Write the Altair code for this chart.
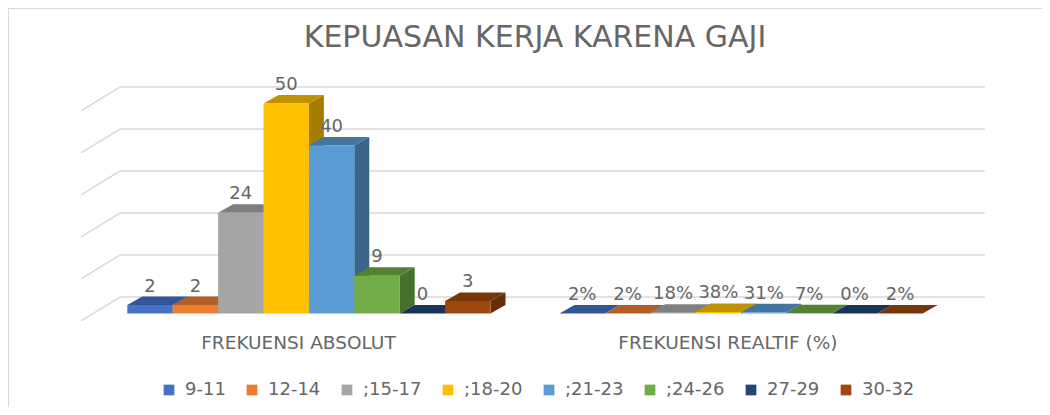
import altair as alt
import pandas as pd

series = ["9-11", "12-14", ";15-17", ";18-20", ";21-23", ";24-26", "27-29", "30-32"]
absolut = [2, 2, 24, 50, 40, 9, 0, 3]
relatif = [0.02, 0.02, 0.18, 0.38, 0.31, 0.07, 0, 0.02]
relatif_labels = ["2%", "2%", "18%", "38%", "31%", "7%", "0%", "2%"]
groups = ["FREKUENSI ABSOLUT", "FREKUENSI REALTIF (%)"]
ticks = [0, 10, 20, 30, 40, 50]

front_colors = ["#4472C4", "#ED7D31", "#A5A5A5", "#FFC000", "#5B9BD5", "#70AD47", "#264478", "#9E480E"]
top_colors = ["#33569A", "#B45E25", "#7F7F7F", "#C09200", "#44759F", "#548235", "#1C3358", "#77360A"]
side_colors = ["#2A4A85", "#9C5120", "#6E6E6E", "#A37C00", "#3A6488", "#476F2D", "#172B4B", "#652E08"]

FONT = "DejaVu Sans"
TEXT = "#666666"
GRID = "#D9D9D9"

GROUP_START = [0, 9.52]
GROUP_CENTER = [3.77, 13.23]
DX, DY = 0.33, 2.02          # depth of each bar, in axis units
WALL_DY, FLOOR_DX, FLOOR_DY = 3.93, 0.86, 5.71
X_LEFT, X_RIGHT = -0.16, 18.89

x_scale = alt.Scale(domain=[-2.628, 20.148], nice=False, zero=False)
y_scale = alt.Scale(domain=[-22.26, 72.74], nice=False, zero=False)
X = lambda f: alt.X(f, type="quantitative", scale=x_scale, axis=None)
Y = lambda f: alt.Y(f, type="quantitative", scale=y_scale, axis=None, stack=None)

rows, sides, tops, labels = [], [], [], []
for g, (start, vals) in enumerate(zip(GROUP_START, [absolut, relatif])):
    for i, (s, v) in enumerate(zip(series, vals)):
        x0 = start + i
        text = str(v) if g == 0 else relatif_labels[i]
        rows.append(dict(series=s, x0=x0, x1=x0 + 1, v=v))
        key = f"{g}-{i}"
        sides += [dict(key=key, series=s, x=x0 + 1, y0=0, y1=v),
                  dict(key=key, series=s, x=x0 + 1 + DX, y0=DY, y1=v + DY)]
        tops += [dict(key=key, series=s, y=v, x0=x0, x1=x0 + 1),
                 dict(key=key, series=s, y=v + DY, x0=x0 + DX, x1=x0 + 1 + DX)]
        labels.append(dict(x=x0 + 0.5, y=v + DY, text=text))

grid_rows = []
for t in ticks:
    grid_rows += [dict(t=t, o=0, x=X_LEFT - FLOOR_DX, y=t + WALL_DY - FLOOR_DY),
                  dict(t=t, o=1, x=X_LEFT, y=t + WALL_DY),
                  dict(t=t, o=2, x=X_RIGHT, y=t + WALL_DY)]

grid = alt.Chart(pd.DataFrame(grid_rows)).mark_line(color=GRID, strokeWidth=1.5).encode(
    x=X("x"), y=Y("y"), detail="t:N", order="o:Q")

side = alt.Chart(pd.DataFrame(sides)).mark_area().encode(
    x=X("x"), y=Y("y0"), y2="y1", detail="key:N",
    color=alt.Color("series:N", scale=alt.Scale(domain=series, range=side_colors), legend=None))

top = alt.Chart(pd.DataFrame(tops)).mark_area(orient="horizontal").encode(
    y=Y("y"), x=X("x0"), x2="x1", detail="key:N",
    color=alt.Color("series:N", scale=alt.Scale(domain=series, range=top_colors), legend=None))

front = alt.Chart(pd.DataFrame(rows)).mark_bar().encode(
    x=X("x0"), x2="x1", y=Y("v"), y2=alt.Y2(datum=0),
    color=alt.Color("series:N", scale=alt.Scale(domain=series, range=front_colors),
                    legend=alt.Legend(title=None, orient="none", legendX=152, legendY=373,
                                      direction="horizontal", columns=8, symbolType="square",
                                      symbolSize=115, symbolStrokeWidth=0, labelFont=FONT,
                                      labelFontSize=18, labelColor=TEXT, columnPadding=17,
                                      labelOffset=7)))

value_text = alt.Chart(pd.DataFrame(labels)).mark_text(
    font=FONT, fontSize=18, color=TEXT, baseline="alphabetic", dy=-5
).encode(x=X("x"), y=Y("y"), text="text:N")

cat_df = pd.DataFrame({"text": groups, "x": GROUP_CENTER})
cat_text = alt.Chart(cat_df).mark_text(font=FONT, fontSize=18.5, color=TEXT).encode(
    x=X("x"), y=alt.value(335), text="text:N")

frame_top = alt.Chart(pd.DataFrame({"a": [0]})).mark_rule(color=GRID, strokeWidth=2).encode(
    x=alt.value(0), x2=alt.value(1034), y=alt.value(0))
frame_left = alt.Chart(pd.DataFrame({"a": [0]})).mark_rule(color=GRID, strokeWidth=2).encode(
    x=alt.value(0), y=alt.value(0), y2=alt.value(399))

chart = alt.layer(frame_top, frame_left, grid, side, top, front, value_text, cat_text).resolve_scale(
    color="independent"
).properties(
    width=1034, height=399, padding=0, autosize=alt.AutoSizeParams(type="none"),
    background="white",
    title=alt.TitleParams("KEPUASAN KERJA KARENA GAJI", font=FONT, fontSize=30, fontWeight="normal",
                          color=TEXT, anchor="middle", offset=0, dy=70, dx=10, baseline="alphabetic"),
).configure_view(stroke=None)

chart.save("out.html", embed_options={"renderer": "svg", "actions": False})
